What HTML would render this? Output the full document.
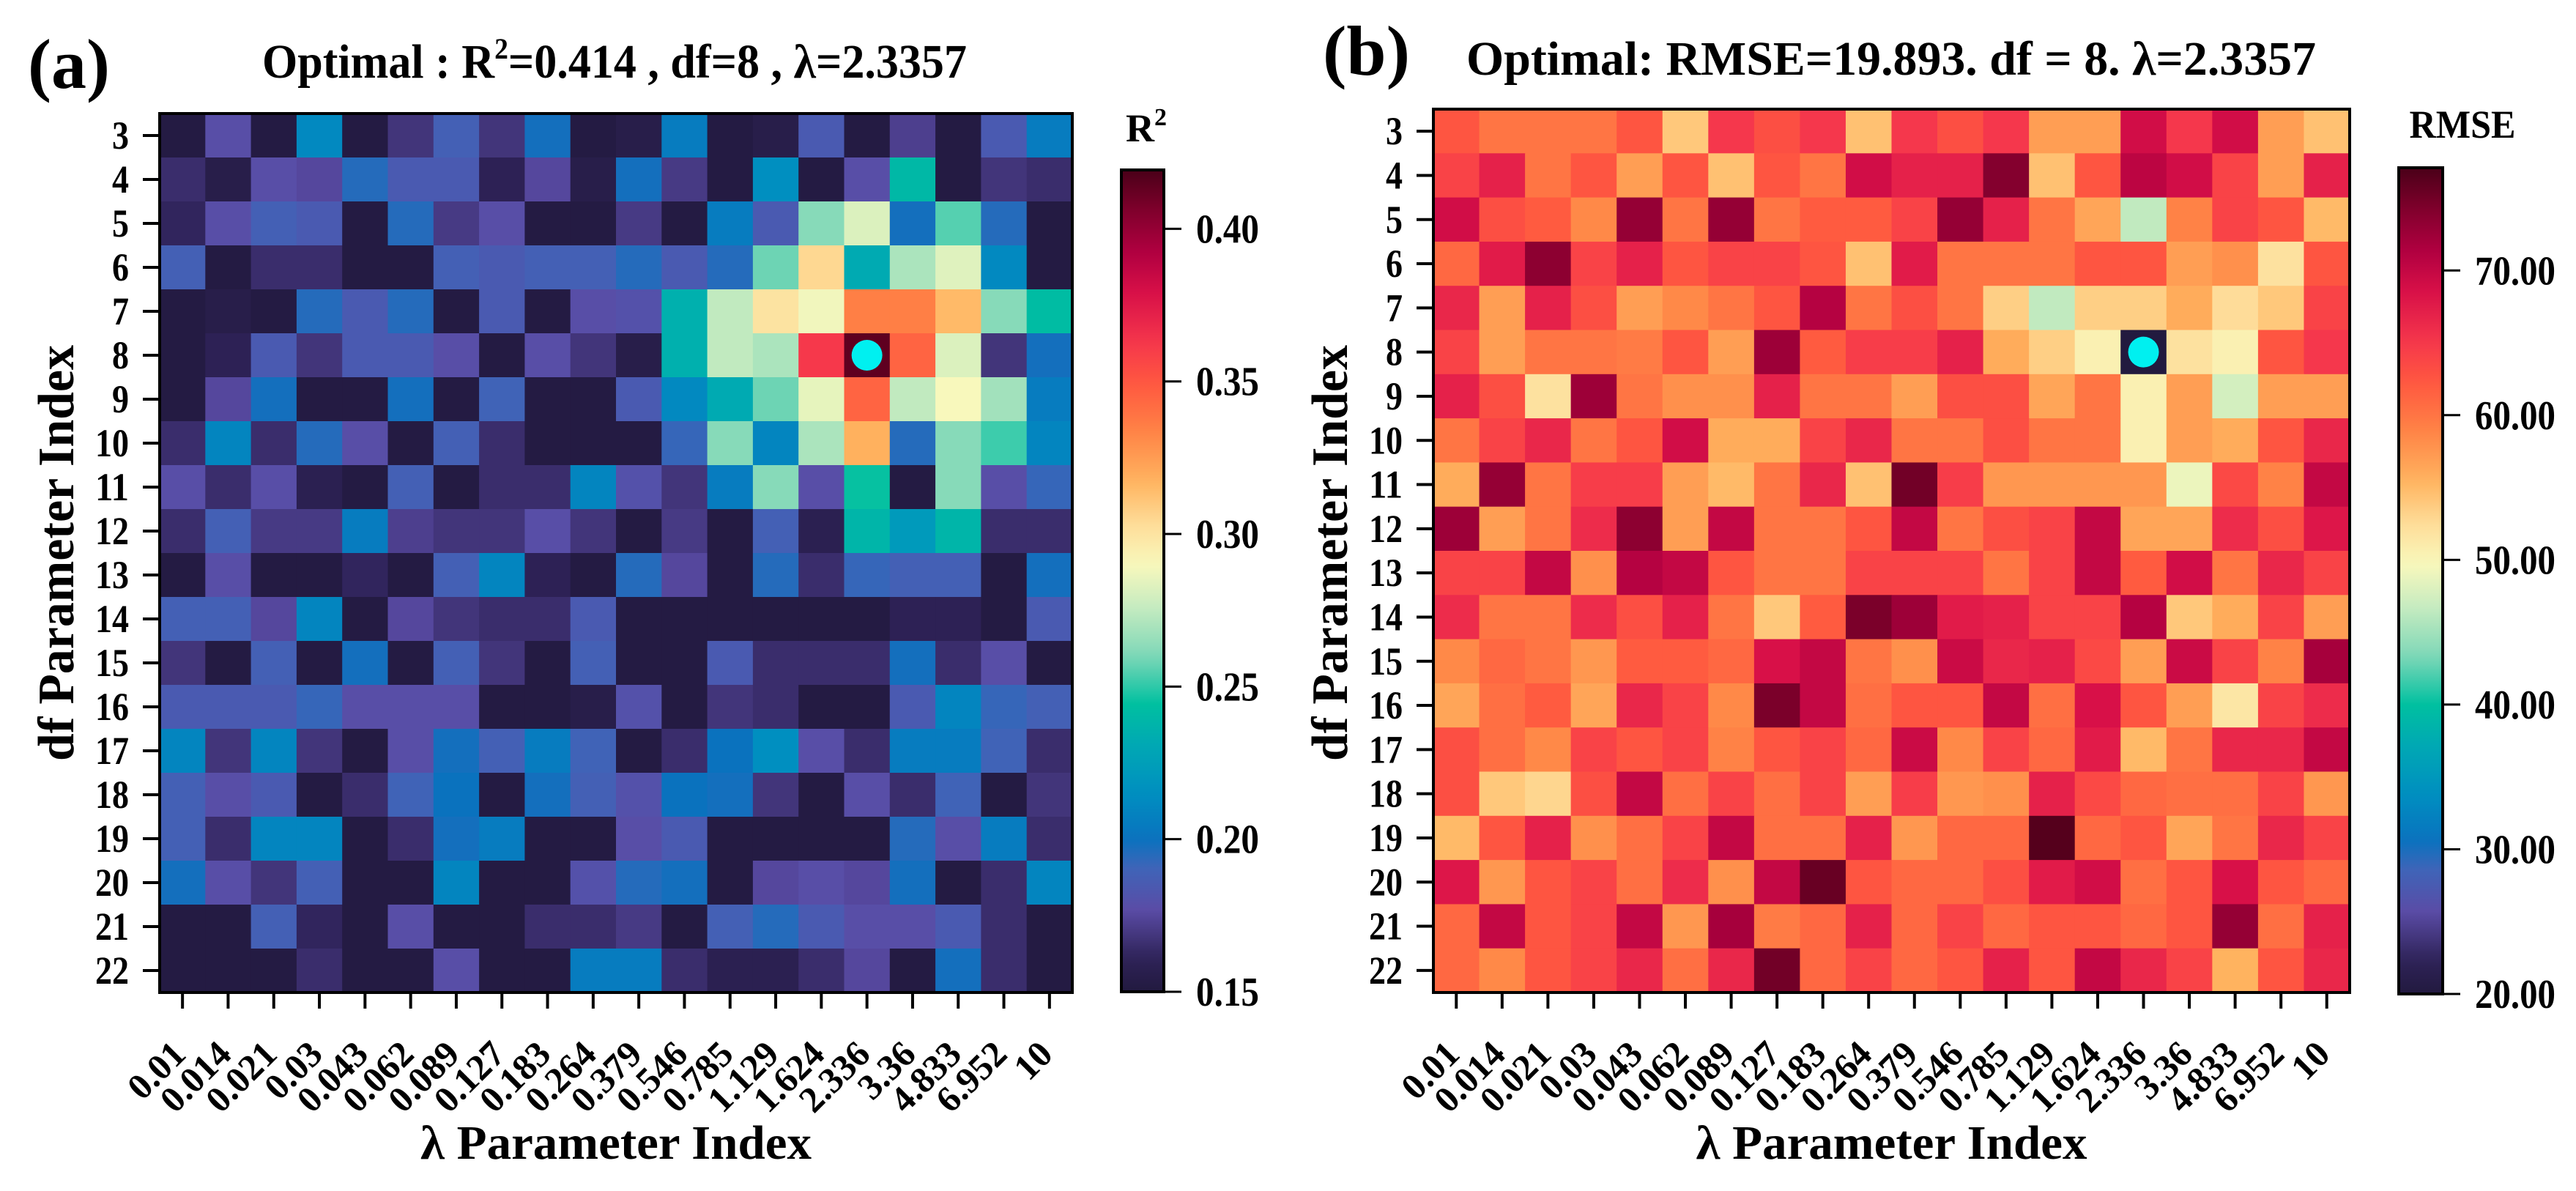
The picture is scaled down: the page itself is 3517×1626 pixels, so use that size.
<!DOCTYPE html>
<html><head><meta charset="utf-8"><title>Heatmaps</title>
<style>html,body{margin:0;padding:0;background:#fff}svg{display:block}text{font-family:"Liberation Serif",serif;font-weight:bold;fill:#000}</style>
</head><body>
<svg id="fig" xmlns="http://www.w3.org/2000/svg" width="3517" height="1626" viewBox="0 0 3517 1626">
<defs id="defs"></defs>
<text x="38" y="120" font-size="96" textLength="112" lengthAdjust="spacingAndGlyphs">(a)</text>
<text x="839" y="106" font-size="66" text-anchor="middle" textLength="962" lengthAdjust="spacingAndGlyphs">Optimal : R<tspan font-size="40" dy="-26">2</tspan><tspan dy="26">=0.414 , df=8 , λ=2.3357</tspan></text>
<text x="1806" y="102" font-size="96" textLength="119" lengthAdjust="spacingAndGlyphs">(b)</text>
<text x="2582" y="102" font-size="66" text-anchor="middle" textLength="1160" lengthAdjust="spacingAndGlyphs">Optimal: RMSE=19.893. df = 8. λ=2.3357</text>
<g id="plots"></g>
</svg>
<script>
const lambdaLabels=["0.01","0.014","0.021","0.03","0.043","0.062","0.089","0.127","0.183","0.264","0.379","0.546","0.785","1.129","1.624","2.336","3.36","4.833","6.952","10"];
const dfLabels=["3","4","5","6","7","8","9","10","11","12","13","14","15","16","17","18","19","20","21","22"];
const r2Ticks=[0.15,0.20,0.25,0.30,0.35,0.40];
const rmseTicks=[20,30,40,50,60,70];
const r2Optimal=[5,15];
const rmseOptimal=[5,15];
const r2Values=[
[.152,.178,.152,.212,.152,.168,.188,.168,.198,.152,.155,.205,.152,.155,.185,.152,.172,.152,.185,.205],
[.165,.155,.178,.175,.195,.185,.185,.16,.175,.155,.198,.17,.152,.215,.152,.178,.24,.152,.168,.165],
[.162,.178,.188,.185,.152,.195,.17,.178,.152,.152,.17,.152,.205,.185,.262,.282,.198,.255,.195,.152],
[.188,.152,.165,.165,.152,.152,.188,.185,.188,.188,.195,.185,.195,.258,.305,.232,.27,.283,.212,.152],
[.152,.155,.152,.195,.185,.195,.152,.185,.152,.178,.18,.235,.275,.300,.288,.335,.335,.315,.262,.242],
[.152,.16,.185,.168,.185,.185,.178,.152,.178,.168,.155,.235,.275,.27,.362,.414,.345,.282,.168,.198],
[.152,.175,.198,.152,.152,.198,.152,.19,.152,.152,.185,.212,.232,.258,.285,.345,.275,.29,.268,.205],
[.165,.21,.165,.195,.178,.152,.188,.165,.152,.152,.152,.192,.262,.21,.27,.318,.195,.262,.252,.21],
[.178,.165,.178,.158,.152,.188,.152,.165,.165,.21,.18,.168,.205,.262,.178,.245,.152,.262,.178,.192],
[.165,.188,.17,.17,.205,.172,.168,.168,.178,.168,.152,.17,.152,.188,.158,.238,.222,.238,.165,.165],
[.152,.178,.152,.152,.162,.152,.188,.21,.16,.152,.195,.175,.152,.195,.165,.192,.188,.188,.152,.198],
[.188,.188,.175,.21,.152,.175,.168,.165,.165,.185,.152,.152,.152,.152,.152,.152,.16,.16,.152,.185],
[.168,.152,.188,.152,.198,.152,.188,.168,.152,.188,.152,.152,.185,.165,.165,.165,.198,.165,.178,.152],
[.185,.185,.185,.192,.178,.178,.178,.152,.152,.155,.18,.152,.168,.165,.152,.152,.185,.21,.192,.188],
[.21,.168,.21,.168,.152,.178,.198,.188,.205,.19,.152,.165,.2,.215,.178,.165,.205,.205,.19,.165],
[.188,.178,.185,.152,.165,.19,.2,.152,.198,.188,.18,.2,.198,.168,.152,.178,.165,.19,.152,.168],
[.188,.165,.21,.21,.152,.165,.198,.205,.152,.152,.178,.185,.152,.152,.152,.152,.195,.178,.205,.165],
[.198,.178,.168,.188,.152,.152,.21,.152,.152,.18,.195,.198,.152,.175,.178,.175,.198,.152,.165,.21],
[.152,.152,.188,.162,.152,.178,.152,.152,.165,.165,.17,.152,.188,.195,.185,.178,.178,.185,.165,.152],
[.152,.152,.152,.165,.152,.152,.178,.152,.152,.205,.205,.165,.158,.158,.165,.175,.152,.198,.165,.152]];
const rmseValues=[
[62.5,60,60,60,62.5,54,65,63,65,54.5,65,63,65,57,57,69,65,69,57,54.5],
[64,67,60,62.5,57,62.5,54.5,62.5,60,69,67,67,74,54.5,62.5,70.5,69,64,57,67],
[69,63,62,58.5,73,60,73,60,62,62,64,73,67,60,56.5,46.5,59,64,62.5,55],
[61,67.5,73.5,64,67,62.5,64,64,62.5,54.5,67.5,60,60,60,62.5,62.5,57,58,52,62.5],
[66.5,57,67,63,57,58.5,60,62.5,71,60,63,60,53.5,46.5,53.5,53.5,56,52.5,54,64],
[64,57,60,60,59.5,62.5,57,72.5,62,64.5,64.5,67,56,53.5,50.5,19.9,52,50.5,62.5,65],
[67,63,52,72.5,60,58,58,67,60,60,57,63,63,56.5,60,50.5,57,47.5,57,57],
[60,64,66.5,60,62.5,69,56,56,64,66.5,60,60,63,60,60,50.5,57,56,62.5,66.5],
[56,73,60,64.5,64.5,57,55,60,66.5,54.5,75,64.5,57.5,57.5,57.5,57.5,49,63.5,59,70],
[72.5,57,60,66,73.5,57,70,60,60,62.5,70,60,63,64,70,56.5,56.5,66,63,68],
[64,64,70,58,71,70,62.5,60,60,64,64,64,60,64,70,62,69,60,66.5,64],
[66,60,60,66,63,67,60,54,62,74.5,72.5,67.5,67,64,64,71,54,56,64,57],
[58.5,61,60,57.5,62,62,61,68.5,70,60,58,69.5,66.5,67,63.5,57,69.5,64,59,72],
[56.5,60.5,62,56.5,66.5,64,58.5,74.5,70,60.5,62.5,62.5,70,60.5,68.5,62.5,57,51.5,64,66],
[63,60.5,58.5,64,62.5,64,59,62.5,64,61,69.5,58.5,64,61,67.5,55,60,66.5,66.5,70],
[63,54,53,63,70,60.5,64,60.5,64,57,64.5,57.5,58,67,63.5,61,60.5,60.5,64,57.5],
[55,62.5,67,58,60.5,64,70,60.5,60.5,67,57.5,61,61,76.5,61,62.5,56.5,60,66.5,64],
[68,57.5,62.5,64,60.5,66,58,70,75.5,62.5,61,61,63,67.5,69,60.5,62.5,68.5,62.5,61],
[61,70,62.5,64,70,57.5,72,59.5,61,67,61,64,61,62.5,62.5,61,62.5,73,60.5,67],
[61,58.5,62.5,64,66.5,60.5,66.5,75,61,64,61,62.5,67,62.5,70,66.5,64,55.5,62.5,66.5]];

const NS="http://www.w3.org/2000/svg";
const cmapT=[0,0.04,0.10,0.15,0.185,0.24,0.30,0.35,0.41,0.47,0.52,0.57,0.62,0.68,0.74,0.79,0.85,0.90,0.95,1];
const cmapC=["#221a3f","#2e2257","#5a4ca6","#3f64b8","#0a72be","#008ec0","#00a8b4","#00c0a0","#80d8b8","#c8ecc0","#f8f8bc","#fedc98","#ffb460","#ff8446","#ff5840","#f5364c","#d81048","#b00040","#80002c","#4a0018"];
function hex(c){return [parseInt(c.substr(1,2),16),parseInt(c.substr(3,2),16),parseInt(c.substr(5,2),16)];}
function cmap(t){t=Math.max(0,Math.min(1,t));for(let i=1;i<cmapT.length;i++){if(t<=cmapT[i]){const f=(t-cmapT[i-1])/(cmapT[i]-cmapT[i-1]);const a=hex(cmapC[i-1]),b=hex(cmapC[i]);return "rgb("+a.map((v,k)=>Math.round(v+(b[k]-v)*f)).join(",")+")";}}return cmapC[cmapC.length-1];}
function mk(tag,attrs,parent){const e=document.createElementNS(NS,tag);for(const k in attrs)e.setAttribute(k,attrs[k]);parent.appendChild(e);return e;}
const root=document.getElementById("plots");
const defs=document.getElementById("defs");

function drawPanel(p){
  const g=mk("g",{},root);
  
  
  const cw=p.w/lambdaLabels.length, ch=p.h/dfLabels.length;
  const xAt=i=>p.x+i*cw, yAt=j=>p.y+j*ch;
  const tOf=v=>(v-p.vmin)/(p.vmax-p.vmin);
  const cells=mk("g",{},g);
  
  
  p.values.forEach((row,j)=>row.forEach((v,i)=>{
    const r=mk("rect",{x:xAt(i),y:yAt(j),width:cw+0.6,height:ch+0.6,fill:cmap(tOf(v))},cells);
    
    
  }));
  const fr=mk("rect",{x:p.x,y:p.y,width:p.w,height:p.h,fill:"none",stroke:"#000","stroke-width":4},g);
  
  
  const mc=mk("circle",{cx:xAt(p.opt[1])+cw/2,cy:yAt(p.opt[0])+ch/2,r:21,fill:"#00f0f0"},g);
  
  
  dfLabels.forEach((lab,j)=>{
    const yc=yAt(j)+ch/2;
    const tk=mk("line",{x1:p.x-23,x2:p.x,y1:yc,y2:yc,stroke:"#000","stroke-width":4},g);
    
    
    const t=mk("text",{x:p.x-42,y:yc+18,"font-size":54,"text-anchor":"end",textLength:lab.length*23,lengthAdjust:"spacingAndGlyphs"},g);
    t.textContent=lab;
    
    
  });
  lambdaLabels.forEach((lab,i)=>{
    const xc=xAt(i)+cw/2;
    const tk=mk("line",{x1:xc,x2:xc,y1:p.y+p.h,y2:p.y+p.h+22,stroke:"#000","stroke-width":4},g);
    
    
    const tx=xc+7, ty=1442;
    const t=mk("text",{x:tx,y:ty,"font-size":50,"text-anchor":"end",transform:"rotate(-45 "+tx+" "+ty+")"},g);
    t.textContent=lab;
    
    
  });
  const xt=mk("text",{x:p.x+p.w/2,y:1582,"font-size":66,"text-anchor":"middle",textLength:534,lengthAdjust:"spacingAndGlyphs"},g);
  xt.textContent="λ Parameter Index";
  
  
  const yx=p.x-118, yy=755;
  const yt=mk("text",{x:yx,y:yy,"font-size":70,"text-anchor":"middle",textLength:568,lengthAdjust:"spacingAndGlyphs",transform:"rotate(-90 "+yx+" "+yy+")"},g);
  yt.textContent="df Parameter Index";
  
  
  const gid="grad-"+p.id;
  const lg=mk("linearGradient",{id:gid,x1:0,y1:1,x2:0,y2:0},defs);
  for(let k=0;k<=60;k++){const t=k/60;mk("stop",{offset:t,"stop-color":cmap(t)},lg);}
  const cb=mk("rect",{x:p.cbx,y:p.cby,width:p.cbw,height:p.cbh,fill:"url(#"+gid+")",stroke:"#000","stroke-width":4},g);
  
  
  const cbY=v=>p.cby+p.cbh-(v-p.vmin)/(p.vmax-p.vmin)*p.cbh;
  p.ticks.forEach(v=>{
    const y=cbY(v);
    const tk=mk("line",{x1:p.cbx+p.cbw,x2:p.cbx+p.cbw+24,y1:y,y2:y,stroke:"#000","stroke-width":3},g);
    
    
    const s=p.fmt(v);
    const t=mk("text",{x:p.cbx+p.cbw+44,y:y+19,"font-size":56,textLength:p.lblW,lengthAdjust:"spacingAndGlyphs"},g);
    t.textContent=s;
    
    
  });
  const ct=mk("text",{x:p.cblx,y:p.cbly,"font-size":54,"text-anchor":"middle"},g);
  
  
  if(p.id==="r2"){ct.textContent="R";const s=mk("tspan",{"font-size":34,dy:-22},ct);s.textContent="2";}
  else {ct.textContent="RMSE";ct.setAttribute("textLength","145");ct.setAttribute("lengthAdjust","spacingAndGlyphs");}
}
drawPanel({id:"r2",x:218,y:155,w:1246,h:1200,values:r2Values,vmin:0.15,vmax:0.4193,opt:r2Optimal,ticks:r2Ticks,fmt:v=>v.toFixed(2),lblW:86,cbx:1531,cby:232,cbw:58,cbh:1122,cblx:1565,cbly:193});
drawPanel({id:"rmse",x:1957,y:149,w:1251,h:1206,values:rmseValues,vmin:20,vmax:77.1,opt:rmseOptimal,ticks:rmseTicks,fmt:v=>v.toFixed(2),lblW:110,cbx:3275,cby:229,cbw:60,cbh:1128,cblx:3362,cbly:188});
</script>
</body></html>
